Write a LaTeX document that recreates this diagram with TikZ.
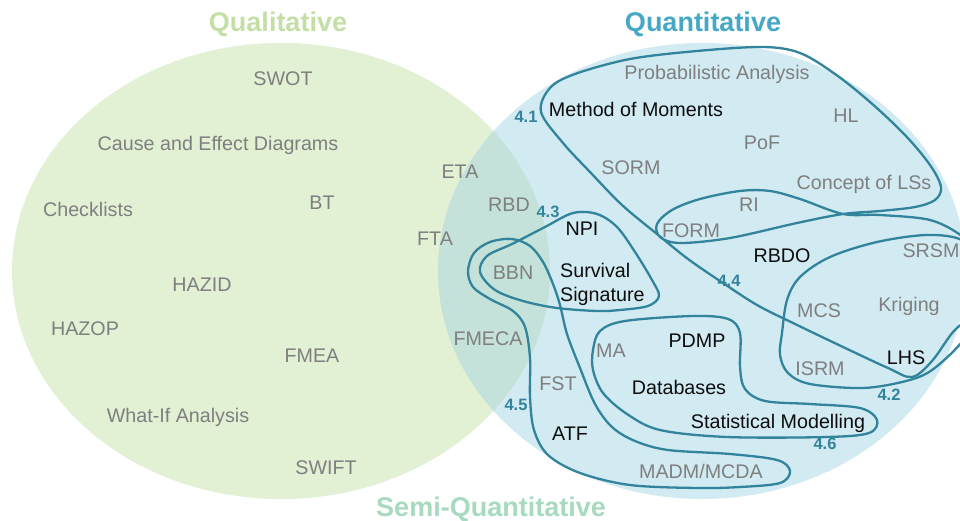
\documentclass[tikz,border=0pt]{standalone}
\usepackage{fontspec}
\setmainfont{Liberation Sans}
\definecolor{qualfill}{HTML}{E2F0D4}
\definecolor{quantfill}{HTML}{D2EAF2}
\definecolor{overfill}{HTML}{C4E2D9}
\definecolor{curvecol}{HTML}{31849B}
\definecolor{txtgray}{HTML}{7F7F7F}
\definecolor{txtblack}{HTML}{0D0D0D}
\definecolor{qualtitle}{HTML}{C4DFA6}
\definecolor{quanttitle}{HTML}{45A8C4}
\definecolor{semititle}{HTML}{A7DABF}
\begin{document}
\begin{tikzpicture}[x=1pt,y=-1pt,
  lblg/.style={anchor=base, text=txtgray, font=\fontsize{19.7}{20}\selectfont, inner sep=0pt},
  lblk/.style={lblg, text=txtblack},
  lblnum/.style={anchor=base, text=curvecol, font=\bfseries\fontsize{16.5}{17}\selectfont, inner sep=0pt},
  ttl/.style={anchor=base, font=\bfseries\fontsize{27}{28}\selectfont, inner sep=0pt},
  grp/.style={draw=curvecol, line width=2.3pt, line join=round}]
\clip (0,0) rectangle (960,521);
\fill[white] (0,0) rectangle (960,521);
% sets
\fill[qualfill] (281,271) ellipse [x radius=269, y radius=228];
\fill[quantfill] (702,271) ellipse [x radius=264, y radius=228];
\begin{scope}
  \clip (281,271) ellipse [x radius=269, y radius=228];
  \fill[overfill] (702,271) ellipse [x radius=264, y radius=228];
\end{scope}
% titles
\node[ttl, text=qualtitle] (tqual) at (278,32) {Qualitative};
\node[ttl, text=quanttitle] (tquant) at (703,32) {Quantitative};
\node[ttl, text=semititle] (tsemi) at (491,516) {Semi-Quantitative};
% group curves
% 4.1 + 4.4 (one twisted closed curve)
\draw[grp] plot[smooth cycle, tension=0.55] coordinates {
 (541,112) (550,88) (575,74) (630,59) (697,51) (763,47) (800,53) (835,74)
 (870,102) (905,135) (930,165) (941,187) (935,200) (915,207) (880,211) (843,214)
 (797,223) (730,238) (680,243) (660,237) (657,224) (672,210) (700,199) (740,191)
 (770,191) (800,199) (843,214) (880,215) (930,220) (962,236) (985,258) (988,292)
 (972,315) (953,332) (932,361) (912,377) (888,368) (843,347) (793,323) (757,305)
 (720,281) (688,259) (657,234) (622,205) (590,172) (563,143)};
% 4.2
\draw[grp] plot[smooth cycle, tension=0.55] coordinates {
 (782,333) (787,300) (800,277) (830,257) (877,242) (927,235) (962,240) (985,262)
 (988,305) (962,342) (932,370) (906,381) (863,388) (810,384) (788,373) (780,355)};
% 4.3
\draw[grp] plot[smooth cycle, tension=0.55] coordinates {
 (480,272) (487,256) (512,244) (545,227) (573,213) (597,214) (617,227) (635,252)
 (652,280) (659,296) (648,306) (620,310) (597,311) (557,308) (523,301) (495,290)};
% 4.5
\draw[grp] plot[smooth cycle, tension=0.55] coordinates {
 (468,271) (474,253) (490,242) (512,239) (530,246) (543,262) (553,284) (560,305)
 (567,334) (580,368) (595,404) (612,427) (635,441) (668,450) (730,454) (777,460)
 (790,471) (780,483) (740,487) (697,488) (630,485) (580,473) (548,455) (534,430)
 (530,397) (530,358) (525,327) (513,311) (490,299) (473,287)};
% 4.6
\draw[grp] plot[smooth cycle, tension=0.55] coordinates {
 (593,350) (600,331) (625,321) (693,316) (728,319) (740,333) (740,367) (745,389)
 (765,401) (810,404) (860,408) (877,420) (869,433) (827,437) (727,437) (660,430)
 (627,414) (603,393) (593,370)};
% group numbers
\node[lblnum] (n41) at (526,123) {4.1};
\node[lblnum] (n42) at (889,400) {4.2};
\node[lblnum] (n43) at (548,218) {4.3};
\node[lblnum] (n44) at (729,286) {4.4};
\node[lblnum] (n45) at (516,410) {4.5};
\node[lblnum] (n46) at (825,449) {4.6};
% qualitative labels
\node[lblg] (swot) at (283,86) {SWOT};
\node[lblg] (cause) at (218,151) {Cause and Effect Diagrams};
\node[lblg] (check) at (88,217) {Checklists};
\node[lblg] (bt) at (322,210) {BT};
\node[lblg] (eta) at (460,179) {ETA};
\node[lblg] (fta) at (435,245) {FTA};
\node[lblg] (hazid) at (202,291) {HAZID};
\node[lblg] (hazop) at (85,335) {HAZOP};
\node[lblg] (fmea) at (312,362) {FMEA};
\node[lblg] (whatif) at (178,422) {What-If Analysis};
\node[lblg] (swift) at (326,474) {SWIFT};
\node[lblg] (fmeca) at (488,345) {FMECA};
\node[lblg] (rbd) at (509,212) {RBD};
\node[lblg] (bbn) at (513,279) {BBN};
\node[lblg] (fst) at (558,390) {FST};
% quantitative labels
\node[lblg] (prob) at (717,80) {Probabilistic Analysis};
\node[lblk] (mom) at (636,117) {Method of Moments};
\node[lblg] (hl) at (846,123) {HL};
\node[lblg] (pof) at (762,150) {PoF};
\node[lblg] (sorm) at (631,175) {SORM};
\node[lblg] (cls) at (864,190) {Concept of LSs};
\node[lblg] (ri) at (749,212) {RI};
\node[lblg] (form) at (691,237) {FORM};
\node[lblk] (rbdo) at (782,262) {RBDO};
\node[lblg] (srsm) at (931,258) {SRSM};
\node[lblg] (mcs) at (819,317) {MCS};
\node[lblg] (krig) at (909,311) {Kriging};
\node[lblg] (isrm) at (820,375) {ISRM};
\node[lblk] (lhs) at (906,364) {LHS};
\node[lblk] (npi) at (582,236) {NPI};
\node[lblk, anchor=base west] (surv) at (560,277) {Survival};
\node[lblk, anchor=base west] (sig) at (560,301) {Signature};
\node[lblg] (ma) at (611,357) {MA};
\node[lblk] (pdmp) at (697,347) {PDMP};
\node[lblk] (db) at (679,394) {Databases};
\node[lblk] (stat) at (778,428) {Statistical Modelling};
\node[lblk] (atf) at (570,440) {ATF};
\node[lblg] (madm) at (701,478) {MADM/MCDA};
\end{tikzpicture}
\end{document}
